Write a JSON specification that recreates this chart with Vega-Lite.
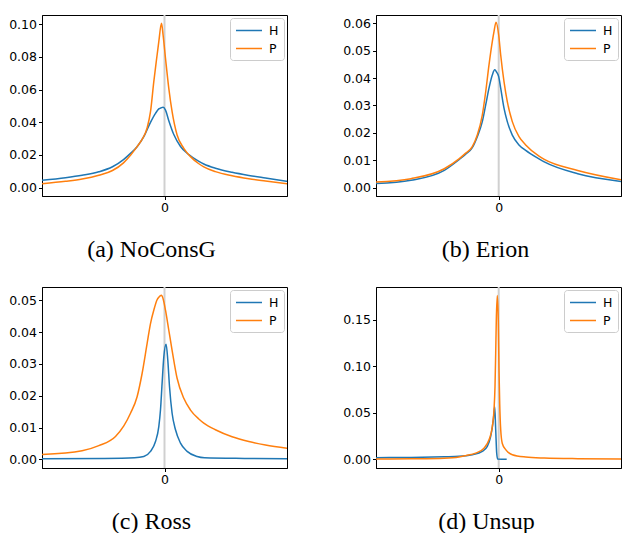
{
  "$schema": "https://vega.github.io/schema/vega-lite/v6.json",
  "padding": {"left": 8, "top": 13, "right": 0, "bottom": 0},
  "autosize": {"type": "pad"},
  "background": "white",
  "datasets": {
    "a": [
      {"x": -122.4, "v": 0.0045, "s": "H"}, {"x": -99, "v": 0.0061, "s": "H"}, {"x": -82.4, "v": 0.0076, "s": "H"}, {"x": -65.7, "v": 0.0097, "s": "H"}, {"x": -52, "v": 0.0128, "s": "H"}, {"x": -41, "v": 0.0172, "s": "H"}, {"x": -34, "v": 0.021, "s": "H"}, {"x": -27.4, "v": 0.0251, "s": "H"}, {"x": -20.7, "v": 0.0312, "s": "H"}, {"x": -14, "v": 0.0400, "s": "H"}, {"x": -9, "v": 0.0455, "s": "H"}, {"x": -5.7, "v": 0.0482, "s": "H"}, {"x": -3, "v": 0.049, "s": "H"}, {"x": -1.4, "v": 0.0492, "s": "H"}, {"x": 1, "v": 0.0475, "s": "H"}, {"x": 4.3, "v": 0.041, "s": "H"}, {"x": 9.3, "v": 0.0325, "s": "H"}, {"x": 16, "v": 0.0252, "s": "H"}, {"x": 24.3, "v": 0.0202, "s": "H"}, {"x": 34, "v": 0.0162, "s": "H"}, {"x": 39.3, "v": 0.0145, "s": "H"}, {"x": 50.9, "v": 0.0119, "s": "H"}, {"x": 67.6, "v": 0.0094, "s": "H"}, {"x": 84.3, "v": 0.0075, "s": "H"}, {"x": 101, "v": 0.0059, "s": "H"}, {"x": 122.6, "v": 0.0039, "s": "H"},
      {"x": -122.4, "v": 0.0024, "s": "P"}, {"x": -99, "v": 0.0039, "s": "P"}, {"x": -82.4, "v": 0.0053, "s": "P"}, {"x": -65.7, "v": 0.0076, "s": "P"}, {"x": -52, "v": 0.0105, "s": "P"}, {"x": -41, "v": 0.0152, "s": "P"}, {"x": -34, "v": 0.0198, "s": "P"}, {"x": -27.4, "v": 0.0251, "s": "P"}, {"x": -22.4, "v": 0.0295, "s": "P"}, {"x": -17.4, "v": 0.0365, "s": "P"}, {"x": -14, "v": 0.0465, "s": "P"}, {"x": -10.7, "v": 0.0649, "s": "P"}, {"x": -7.4, "v": 0.0812, "s": "P"}, {"x": -5.7, "v": 0.0894, "s": "P"}, {"x": -3, "v": 0.1006, "s": "P"}, {"x": -1.4, "v": 0.0934, "s": "P"}, {"x": 1, "v": 0.0792, "s": "P"}, {"x": 4.3, "v": 0.0608, "s": "P"}, {"x": 7.6, "v": 0.0465, "s": "P"}, {"x": 12.6, "v": 0.0322, "s": "P"}, {"x": 19.3, "v": 0.0241, "s": "P"}, {"x": 26, "v": 0.019, "s": "P"}, {"x": 34, "v": 0.0148, "s": "P"}, {"x": 39.3, "v": 0.0127, "s": "P"}, {"x": 50.9, "v": 0.0098, "s": "P"}, {"x": 67.6, "v": 0.0073, "s": "P"}, {"x": 84.3, "v": 0.0055, "s": "P"}, {"x": 101, "v": 0.0041, "s": "P"}, {"x": 122.6, "v": 0.0024, "s": "P"}
    ],
    "b": [
      {"x": -122.7, "v": 0.0015, "s": "H"}, {"x": -87.7, "v": 0.0027, "s": "H"}, {"x": -54.4, "v": 0.0063, "s": "H"}, {"x": -39.7, "v": 0.0102, "s": "H"}, {"x": -33, "v": 0.0122, "s": "H"}, {"x": -26.4, "v": 0.0146, "s": "H"}, {"x": -21.4, "v": 0.0186, "s": "H"}, {"x": -16.4, "v": 0.0241, "s": "H"}, {"x": -13, "v": 0.0302, "s": "H"}, {"x": -9.7, "v": 0.0363, "s": "H"}, {"x": -6.4, "v": 0.0411, "s": "H"}, {"x": -4, "v": 0.043, "s": "H"}, {"x": -2, "v": 0.0421, "s": "H"}, {"x": 0, "v": 0.0405, "s": "H"}, {"x": 2, "v": 0.0363, "s": "H"}, {"x": 5.3, "v": 0.029, "s": "H"}, {"x": 8.6, "v": 0.0241, "s": "H"}, {"x": 13.6, "v": 0.0192, "s": "H"}, {"x": 20.3, "v": 0.0156, "s": "H"}, {"x": 27, "v": 0.0136, "s": "H"}, {"x": 40.3, "v": 0.0105, "s": "H"}, {"x": 45.6, "v": 0.0094, "s": "H"}, {"x": 79, "v": 0.0051, "s": "H"}, {"x": 122.3, "v": 0.0023, "s": "H"},
      {"x": -122.7, "v": 0.0021, "s": "P"}, {"x": -87.7, "v": 0.0033, "s": "P"}, {"x": -54.4, "v": 0.0069, "s": "P"}, {"x": -39.7, "v": 0.0105, "s": "P"}, {"x": -33, "v": 0.0126, "s": "P"}, {"x": -26.4, "v": 0.015, "s": "P"}, {"x": -21.4, "v": 0.0192, "s": "P"}, {"x": -16.4, "v": 0.0265, "s": "P"}, {"x": -13, "v": 0.035, "s": "P"}, {"x": -9.7, "v": 0.0448, "s": "P"}, {"x": -6.4, "v": 0.0533, "s": "P"}, {"x": -4.7, "v": 0.0569, "s": "P"}, {"x": -2.7, "v": 0.0604, "s": "P"}, {"x": 0, "v": 0.0557, "s": "P"}, {"x": 2, "v": 0.0484, "s": "P"}, {"x": 5.3, "v": 0.0387, "s": "P"}, {"x": 8.6, "v": 0.0314, "s": "P"}, {"x": 13.6, "v": 0.0241, "s": "P"}, {"x": 20.3, "v": 0.0186, "s": "P"}, {"x": 27, "v": 0.0156, "s": "P"}, {"x": 40.3, "v": 0.0115, "s": "P"}, {"x": 45.6, "v": 0.0103, "s": "P"}, {"x": 79, "v": 0.0063, "s": "P"}, {"x": 122.3, "v": 0.0029, "s": "P"}
    ],
    "c": [
      {"x": -122.4, "v": 0.0002, "s": "H"}, {"x": -60, "v": 0.0003, "s": "H"}, {"x": -30, "v": 0.0005, "s": "H"}, {"x": -20.7, "v": 0.0009, "s": "H"}, {"x": -14, "v": 0.0025, "s": "H"}, {"x": -9, "v": 0.0056, "s": "H"}, {"x": -5.7, "v": 0.0103, "s": "H"}, {"x": -4, "v": 0.0156, "s": "H"}, {"x": -2.4, "v": 0.0239, "s": "H"}, {"x": -0.7, "v": 0.0322, "s": "H"}, {"x": 1.6, "v": 0.0362, "s": "H"}, {"x": 3.3, "v": 0.0312, "s": "H"}, {"x": 5, "v": 0.0229, "s": "H"}, {"x": 7.6, "v": 0.0145, "s": "H"}, {"x": 11, "v": 0.0093, "s": "H"}, {"x": 16, "v": 0.0051, "s": "H"}, {"x": 22.6, "v": 0.0025, "s": "H"}, {"x": 32.6, "v": 0.0009, "s": "H"}, {"x": 40, "v": 0.0005, "s": "H"}, {"x": 80, "v": 0.0003, "s": "H"}, {"x": 122.6, "v": 0.0002, "s": "H"},
      {"x": -122.4, "v": 0.0015, "s": "P"}, {"x": -82.4, "v": 0.0027, "s": "P"}, {"x": -65.7, "v": 0.0043, "s": "P"}, {"x": -49, "v": 0.0072, "s": "P"}, {"x": -40.7, "v": 0.0105, "s": "P"}, {"x": -34, "v": 0.0145, "s": "P"}, {"x": -27.4, "v": 0.0197, "s": "P"}, {"x": -22.4, "v": 0.027, "s": "P"}, {"x": -17.4, "v": 0.0364, "s": "P"}, {"x": -14, "v": 0.0427, "s": "P"}, {"x": -10.7, "v": 0.0469, "s": "P"}, {"x": -7.4, "v": 0.0502, "s": "P"}, {"x": -5.7, "v": 0.051, "s": "P"}, {"x": -3, "v": 0.0516, "s": "P"}, {"x": -1.4, "v": 0.0505, "s": "P"}, {"x": 1, "v": 0.0469, "s": "P"}, {"x": 4.3, "v": 0.0406, "s": "P"}, {"x": 7.6, "v": 0.0343, "s": "P"}, {"x": 12.6, "v": 0.0255, "s": "P"}, {"x": 19.3, "v": 0.0192, "s": "P"}, {"x": 26, "v": 0.0155, "s": "P"}, {"x": 34.3, "v": 0.0127, "s": "P"}, {"x": 39.3, "v": 0.0114, "s": "P"}, {"x": 50.9, "v": 0.0093, "s": "P"}, {"x": 67.6, "v": 0.0071, "s": "P"}, {"x": 84.3, "v": 0.0056, "s": "P"}, {"x": 101, "v": 0.0045, "s": "P"}, {"x": 122.6, "v": 0.0035, "s": "P"}
    ],
    "d": [
      {"x": -122.7, "v": 0.0018, "s": "H"}, {"x": -87.7, "v": 0.0021, "s": "H"}, {"x": -54.4, "v": 0.0028, "s": "H"}, {"x": -39.7, "v": 0.0032, "s": "H"}, {"x": -26.4, "v": 0.005, "s": "H"}, {"x": -16.4, "v": 0.0086, "s": "H"}, {"x": -11.4, "v": 0.0139, "s": "H"}, {"x": -8, "v": 0.0246, "s": "H"}, {"x": -5.4, "v": 0.042, "s": "H"}, {"x": -4, "v": 0.0567, "s": "H"}, {"x": -3, "v": 0.032, "s": "H"}, {"x": -2, "v": 0.0067, "s": "H"}, {"x": -1, "v": 0.0003, "s": "H"}, {"x": 8, "v": 0.0, "s": "H"},
      {"x": -122.7, "v": 0.0003, "s": "P"}, {"x": -87.7, "v": 0.0006, "s": "P"}, {"x": -54.4, "v": 0.0012, "s": "P"}, {"x": -39.7, "v": 0.0025, "s": "P"}, {"x": -33, "v": 0.004, "s": "P"}, {"x": -23, "v": 0.0067, "s": "P"}, {"x": -14.7, "v": 0.012, "s": "P"}, {"x": -9.7, "v": 0.021, "s": "P"}, {"x": -6.4, "v": 0.035, "s": "P"}, {"x": -4.7, "v": 0.053, "s": "P"}, {"x": -3.7, "v": 0.078, "s": "P"}, {"x": -3, "v": 0.114, "s": "P"}, {"x": -2.4, "v": 0.149, "s": "P"}, {"x": -1.4, "v": 0.176, "s": "P"}, {"x": -0.4, "v": 0.149, "s": "P"}, {"x": 0.3, "v": 0.096, "s": "P"}, {"x": 1, "v": 0.06, "s": "P"}, {"x": 2, "v": 0.032, "s": "P"}, {"x": 3.6, "v": 0.017, "s": "P"}, {"x": 7, "v": 0.0104, "s": "P"}, {"x": 13.6, "v": 0.005, "s": "P"}, {"x": 27, "v": 0.0025, "s": "P"}, {"x": 45.6, "v": 0.0014, "s": "P"}, {"x": 79, "v": 0.0007, "s": "P"}, {"x": 122.3, "v": 0.0004, "s": "P"}
    ],
    "zero": [{"x": 0}]
  },
  "spacing": 22,
  "resolve": {"scale": {"color": "independent"}, "legend": {"color": "independent"}},
  "vconcat": [
    {
      "spacing": 54,
      "resolve": {"scale": {"color": "independent"}, "legend": {"color": "independent"}},
      "hconcat": [
        {
          "width": 245, "height": 181,
          "title": {"text": "(a) NoConsG", "orient": "bottom", "anchor": "middle", "frame": "group", "dx": -13, "offset": 42.7, "baseline": "alphabetic"},
          "layer": [
            {"data": {"name": "zero"}, "mark": {"type": "rule", "color": "#d0d0d0", "strokeWidth": 2}, "encoding": {"x": {"field": "x", "type": "quantitative"}}},
            {"data": {"name": "a"}, "mark": {"type": "line", "strokeWidth": 1.5, "clip": true, "interpolate": "monotone"},
             "encoding": {
               "x": {"field": "x", "type": "quantitative", "scale": {"domain": [-122.5, 122.5], "nice": false, "zero": false}, "axis": {"values": [0], "format": "d"}},
               "y": {"field": "v", "type": "quantitative", "scale": {"domain": [-0.0051, 0.1057], "nice": false, "zero": false}, "axis": {"values": [0, 0.02, 0.04, 0.06, 0.08, 0.1], "format": ".2f"}},
               "color": {"field": "s", "type": "nominal", "scale": {"domain": ["H", "P"], "range": ["#1f77b4", "#ff7f0e"]}}
             }}
          ]
        },
        {
          "width": 245, "height": 181,
          "title": {"text": "(b) Erion", "orient": "bottom", "anchor": "middle", "frame": "group", "dx": -13, "offset": 42.7, "baseline": "alphabetic"},
          "layer": [
            {"data": {"name": "zero"}, "mark": {"type": "rule", "color": "#d0d0d0", "strokeWidth": 2}, "encoding": {"x": {"field": "x", "type": "quantitative"}}},
            {"data": {"name": "b"}, "mark": {"type": "line", "strokeWidth": 1.5, "clip": true, "interpolate": "monotone"},
             "encoding": {
               "x": {"field": "x", "type": "quantitative", "scale": {"domain": [-122.7, 122.3], "nice": false, "zero": false}, "axis": {"values": [0], "format": "d"}},
               "y": {"field": "v", "type": "quantitative", "scale": {"domain": [-0.00303, 0.063], "nice": false, "zero": false}, "axis": {"values": [0, 0.01, 0.02, 0.03, 0.04, 0.05, 0.06], "format": ".2f"}},
               "color": {"field": "s", "type": "nominal", "scale": {"domain": ["H", "P"], "range": ["#1f77b4", "#ff7f0e"]}}
             }}
          ]
        }
      ]
    },
    {
      "spacing": 54,
      "resolve": {"scale": {"color": "independent"}, "legend": {"color": "independent"}},
      "hconcat": [
        {
          "width": 245, "height": 181,
          "title": {"text": "(c) Ross", "orient": "bottom", "anchor": "middle", "frame": "group", "dx": -13, "offset": 42.5, "baseline": "alphabetic"},
          "layer": [
            {"data": {"name": "zero"}, "mark": {"type": "rule", "color": "#d0d0d0", "strokeWidth": 2}, "encoding": {"x": {"field": "x", "type": "quantitative"}}},
            {"data": {"name": "c"}, "mark": {"type": "line", "strokeWidth": 1.5, "clip": true, "interpolate": "monotone"},
             "encoding": {
               "x": {"field": "x", "type": "quantitative", "scale": {"domain": [-122.5, 122.5], "nice": false, "zero": false}, "axis": {"values": [0], "format": "d"}},
               "y": {"field": "v", "type": "quantitative", "scale": {"domain": [-0.00272, 0.0542], "nice": false, "zero": false}, "axis": {"values": [0, 0.01, 0.02, 0.03, 0.04, 0.05], "format": ".2f"}},
               "color": {"field": "s", "type": "nominal", "scale": {"domain": ["H", "P"], "range": ["#1f77b4", "#ff7f0e"]}}
             }}
          ]
        },
        {
          "width": 245, "height": 181,
          "title": {"text": "(d) Unsup", "orient": "bottom", "anchor": "middle", "frame": "group", "dx": -12, "offset": 42.5, "baseline": "alphabetic"},
          "layer": [
            {"data": {"name": "zero"}, "mark": {"type": "rule", "color": "#d0d0d0", "strokeWidth": 2}, "encoding": {"x": {"field": "x", "type": "quantitative"}}},
            {"data": {"name": "d"}, "mark": {"type": "line", "strokeWidth": 1.5, "clip": true, "interpolate": "monotone"},
             "encoding": {
               "x": {"field": "x", "type": "quantitative", "scale": {"domain": [-122.7, 122.3], "nice": false, "zero": false}, "axis": {"values": [0], "format": "d"}},
               "y": {"field": "v", "type": "quantitative", "scale": {"domain": [-0.0093, 0.185], "nice": false, "zero": false}, "axis": {"values": [0, 0.05, 0.1, 0.15], "format": ".2f"}},
               "color": {"field": "s", "type": "nominal", "scale": {"domain": ["H", "P"], "range": ["#1f77b4", "#ff7f0e"]}}
             }}
          ]
        }
      ]
    }
  ],
  "config": {
    "font": "DejaVu Sans",
    "view": {"stroke": "black", "strokeWidth": 1},
    "axis": {"grid": false, "title": null, "labelFont": "DejaVu Sans", "labelFontSize": 12.5, "labelColor": "black", "tickColor": "black", "tickSize": 3.5, "tickWidth": 1, "domainColor": "black", "labelPadding": 2},
    "title": {"font": "Liberation Serif", "fontSize": 24, "fontWeight": "normal", "color": "black"},
    "legend": {"orient": "top-right", "offset": 3, "padding": 5, "strokeColor": "#cccccc", "cornerRadius": 3, "fillColor": "white", "symbolType": "M-1,0H3", "symbolSize": 169, "symbolStrokeWidth": 1.5, "labelFont": "DejaVu Sans", "labelFontSize": 12.5, "labelColor": "black", "labelOffset": 19, "rowPadding": 4, "title": null, "labelExpr": "datum.label + ' '"}
  }
}
